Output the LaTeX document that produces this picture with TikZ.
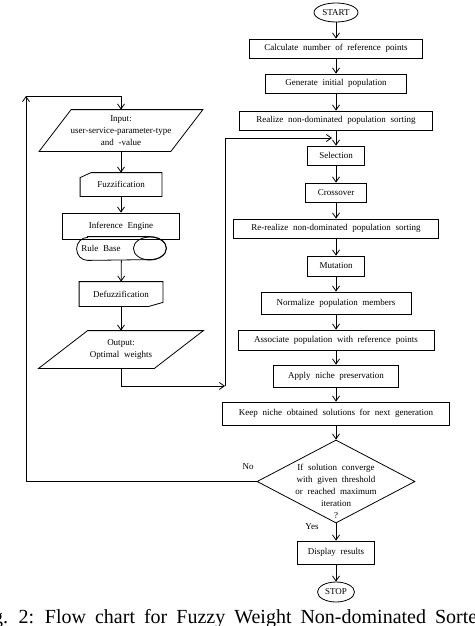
\documentclass[tikz,border=0pt]{standalone}
\usepackage{fontspec}
\setmainfont{Liberation Serif}[WordSpace=2.1]
\newfontfamily\capfont{Liberation Serif}[WordSpace=1.8]
\usetikzlibrary{shapes.geometric,arrows.meta}
\tikzset{
  box/.style={draw, rectangle, inner sep=0pt, minimum height=19pt},
  term/.style={draw, ellipse, inner sep=0pt},
  io/.style={inner sep=0pt, align=center},
  arr/.style={-{Straight Barb[length=5pt,width=7pt]}},
}
\begin{document}
\begin{tikzpicture}[x=1pt, y=-1pt, line width=0.8pt, font=\fontsize{9}{12}\selectfont]
\useasboundingbox (0,0) rectangle (474,626);
% main column
\node [term, minimum width=44, minimum height=19] (start) at (336,12.5) {START};
\node [box, minimum width=173] (calc) at (336,48.5) {Calculate number of reference points};
\node [box, minimum width=141] (gen) at (336,83.5) {Generate initial population};
\node [box, minimum width=193] (real) at (336,120.5) {Realize non-dominated population sorting};
\node [box, minimum width=57] (sel) at (336,155.5) {Selection};
\node [box, minimum width=61] (cross) at (336,192.5) {Crossover};
\node [box, minimum width=205] (rereal) at (336,228.5) {Re-realize non-dominated population sorting};
\node [box, minimum width=57, minimum height=20] (mut) at (336,266) {Mutation};
\node [box, minimum width=150, minimum height=22] (norm) at (336,303) {Normalize population members};
\node [box, minimum width=196, minimum height=20] (assoc) at (336,340) {Associate population with reference points};
\node [box, minimum width=125, minimum height=22] (niche) at (336,376) {Apply niche preservation};
\node [box, minimum width=227, minimum height=23] (keep) at (336,413.5) {Keep niche obtained solutions for next generation};
\node [draw, diamond, minimum width=158, minimum height=83, inner sep=0pt] (dec) at (336,481.5) {};
\node [align=center, inner sep=0pt] (dectxt) at (336,491) {If solution converge\\with given threshold\\or reached maximum\\iteration\\?};
\node (no) at (248,467) {No};
\node (yes) at (312,527) {Yes};
\node [box, minimum width=77, minimum height=23] (disp) at (336,552.5) {Display results};
\node [term, minimum width=37, minimum height=20] (stop) at (336,592) {STOP};
\foreach \a/\b in {start/calc, calc/gen, gen/real, real/sel, sel/cross, cross/rereal, rereal/mut, mut/norm, norm/assoc, assoc/niche, niche/keep, keep/dec, dec/disp, disp/stop}
  \draw [arr] (\a) -- (\b);
% fuzzy column
\node [io, minimum width=131, minimum height=41] (inp) at (121,130.5) {Input:\\user-service-parameter-type\\and -value};
\draw ([xshift=16pt]inp.north west) -- ([xshift=16pt]inp.north east) -- ([xshift=-16pt]inp.south east) -- ([xshift=-16pt]inp.south west) -- cycle;
\node [io, minimum width=81, minimum height=23] (fuzz) at (121,184.5) {Fuzzification};
\draw ([yshift=-5pt]fuzz.north west) -- ([xshift=11pt]fuzz.north west) -- (fuzz.north east) -- (fuzz.south east) -- (fuzz.south west) -- cycle;
\node [box, minimum width=117, minimum height=26] (inf) at (121,226) {Inference Engine};
\node [io, minimum width=89, minimum height=23] (rule) at (121.5,248.5) {};
\draw ([xshift=11pt]rule.north west) -- ([xshift=-16.5pt]rule.north east)
  arc [start angle=90, end angle=-90, x radius=16.5pt, y radius=11.5pt]
  -- ([xshift=11pt]rule.south west)
  arc [start angle=270, end angle=90, x radius=11pt, y radius=11.5pt] -- cycle;
\draw ([xshift=-16.5pt]rule.east) ellipse [x radius=16.5pt, y radius=11.5pt];
\node (rbtxt) at (101,248.5) {Rule Base};
\node [io, minimum width=83, minimum height=24] (defz) at (121,294) {Defuzzification};
\draw (defz.north west) -- (defz.north east) -- ([yshift=4pt]defz.south east) -- ([xshift=-14pt]defz.south east) -- (defz.south west) -- cycle;
\node [io, minimum width=115, minimum height=37] (out) at (121,349.5) {Output:\\Optimal weights};
\draw ([xshift=24.5pt]out.north west) -- ([xshift=24.5pt]out.north east) -- ([xshift=-24.5pt]out.south east) -- ([xshift=-24.5pt]out.south west) -- cycle;
\foreach \a/\b in {inp/fuzz, fuzz/inf, rule/defz, defz/out}
  \draw [arr] (\a) -- (\b);
% feedback lines
\coordinate (ltop) at (26,96);
\draw [arr] (dec.west) -| (ltop);
\draw [arr] (ltop) -| (inp.north);
\coordinate (rbot) at (225,386);
\coordinate (rtop) at (225,138);
\coordinate (tjoin) at (332,138);
\draw [arr] (out.south) |- (rbot);
\draw [arr] (rbot) -- (rtop) -- (tjoin);
% caption
\node [anchor=base west, inner sep=0pt, font=\capfont\fontsize{20}{22}\selectfont] (cap) at (-24,623) {Fig. 2: Flow chart for Fuzzy Weight Non-dominated Sorted};
\end{tikzpicture}
\end{document}
